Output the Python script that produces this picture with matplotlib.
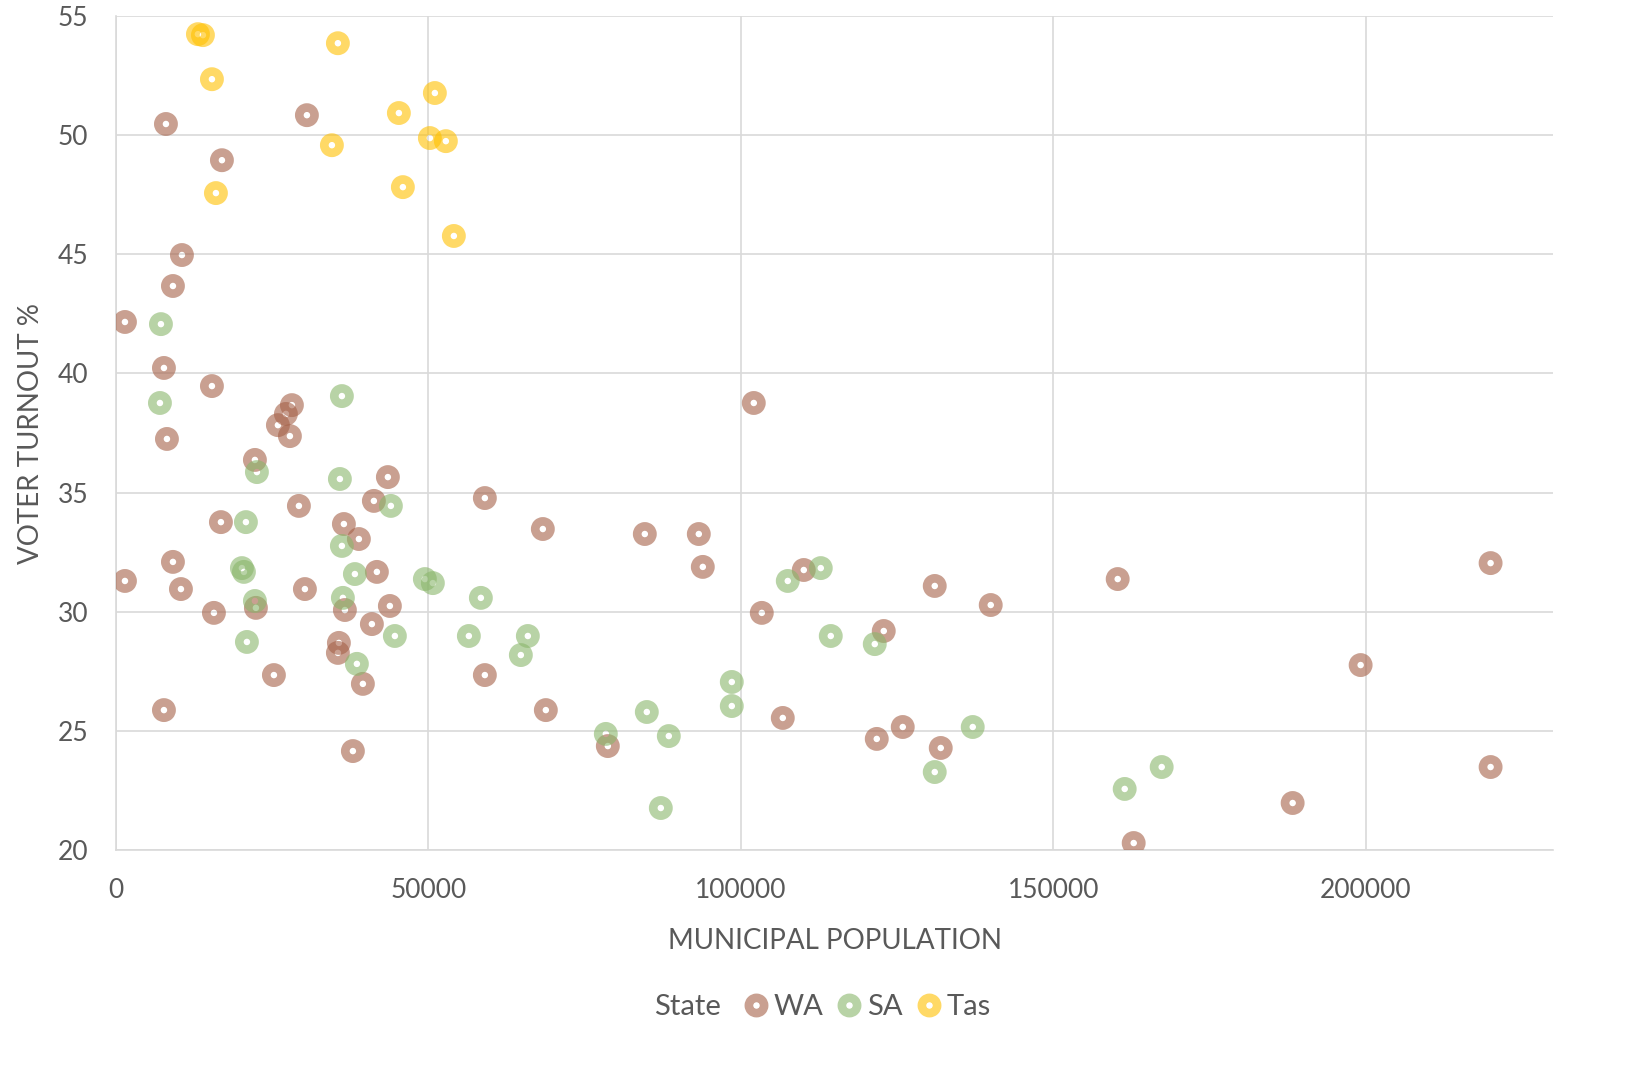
import numpy as np
import matplotlib.pyplot as plt
from matplotlib.lines import Line2D

plt.rcParams['font.family'] = ['Lato', 'DejaVu Sans']

# WA councils
wa_pop = [1440, 1440, 8000, 7680, 8160, 7680, 9120, 9120, 10560, 10400,
          15360, 15680, 16960, 16800, 22240, 22400, 25280, 25920, 27200, 28160,
          27840, 29280, 30240, 30560, 35680, 35520, 36480, 36640, 37920, 38880,
          39520, 40960, 41280, 41760, 43520, 43840, 59040, 59040, 68320, 68800,
          78720, 84640, 93280, 93920, 102080, 103360, 106720, 110080, 121760, 122880,
          125920, 131040, 132000, 140000, 160320, 162880, 188320, 199200, 220000, 220000]
wa_turn = [42.16, 31.29, 50.47, 40.23, 37.25, 25.87, 43.67, 32.09, 44.97, 30.95,
           39.47, 29.95, 48.95, 33.76, 36.37, 30.16, 27.34, 37.83, 38.30, 38.67,
           37.37, 34.44, 30.95, 50.84, 28.69, 28.27, 33.68, 30.07, 24.15, 33.05,
           26.97, 29.48, 34.65, 31.67, 35.65, 30.24, 34.77, 27.34, 33.47, 25.87,
           24.36, 33.26, 33.26, 31.88, 38.76, 29.95, 25.54, 31.75, 24.66, 29.19,
           25.16, 31.08, 24.28, 30.28, 31.37, 20.29, 21.97, 27.76, 32.04, 23.48]

# SA councils
sa_pop = [7200, 7040, 20800, 20160, 20480, 22240, 20960, 22560, 36160, 35840,
          36160, 36320, 38240, 38560, 44000, 44640, 49440, 50720, 56480, 58400,
          64800, 65920, 78400, 84960, 88480, 87200, 98560, 98560, 107520, 112800,
          114400, 121440, 131040, 137120, 161440, 167360]
sa_turn = [42.07, 38.76, 33.76, 31.83, 31.67, 30.45, 28.73, 35.86, 39.05, 35.57,
           32.76, 30.58, 31.58, 27.81, 34.44, 28.98, 31.37, 31.20, 28.98, 30.58,
           28.18, 28.98, 24.87, 25.79, 24.78, 21.76, 27.05, 26.04, 31.29, 31.83,
           28.98, 28.64, 23.27, 25.16, 22.56, 23.48]

# Tas councils
tas_pop = [13120, 13920, 15360, 16000, 35520, 34560, 45280, 45920, 51040, 50240,
           52800, 54080]
tas_turn = [54.24, 54.20, 52.35, 47.57, 53.86, 49.58, 50.93, 47.82, 51.77, 49.88,
            49.75, 45.77]

series = [('WA', wa_pop, wa_turn, '#A56148'),
          ('SA', sa_pop, sa_turn, '#8AB66B'),
          ('Tas', tas_pop, tas_turn, '#FFC000')]

grey = '#595959'
fig = plt.figure(figsize=(16.4, 10.71), dpi=100)
ax = fig.add_axes([0.0707, 0.2064, 0.8763, 0.7786])

for name, xs, ys, col in series:
    ax.scatter(xs, ys, s=121, facecolors='none', edgecolors=col,
               linewidths=6.2, alpha=0.6, zorder=3)

ax.set_xlim(0, 230000)
ax.set_ylim(20, 55)
ax.set_xticks(np.arange(0, 200001, 50000))
ax.set_yticks(np.arange(20, 56, 5))
ax.grid(True, color='#D9D9D9', linewidth=1.2)
ax.set_axisbelow(True)
for side in ['top', 'right']:
    ax.spines[side].set_visible(False)
for side in ['left', 'bottom']:
    ax.spines[side].set_color('#D9D9D9')
    ax.spines[side].set_linewidth(1.2)
ax.tick_params(length=0, labelsize=19, colors=grey)
ax.tick_params(axis='y', pad=20)
ax.tick_params(axis='x', pad=20)

ax.set_xlabel('MUNICIPAL POPULATION', fontsize=20, color=grey, labelpad=18)
ax.set_ylabel('VOTER TURNOUT %', fontsize=20, color=grey, labelpad=10)

handles = [Line2D([], [], linestyle='none', marker='o', markersize=11,
                  markerfacecolor='none', markeredgecolor=col,
                  markeredgewidth=6.2, alpha=0.6) for _, _, _, col in series]
leg = fig.legend(handles, [s[0] for s in series], loc='center',
                 bbox_to_anchor=(0.527, 0.06), ncol=3, frameon=False,
                 fontsize=21, handletextpad=0.0, columnspacing=0.3,
                 handlelength=1.2)
for t in leg.get_texts():
    t.set_color(grey)
fig.text(0.419, 0.06, 'State', fontsize=21, color=grey, va='center', ha='center')

fig.savefig('out.png', dpi=100)
